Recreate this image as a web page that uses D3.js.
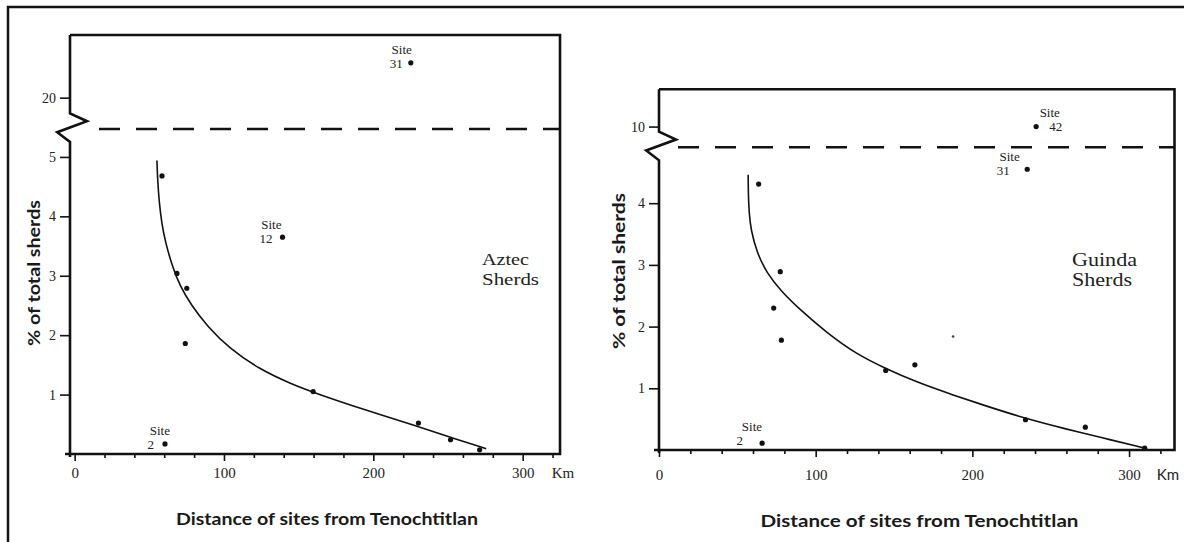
<!DOCTYPE html>
<html><head><meta charset="utf-8">
<script src="https://cdn.jsdelivr.net/npm/d3@7"></script>
<style>body{margin:0;background:#fff}svg{display:block}</style>
</head><body>
<svg id="c" width="1184" height="542"></svg>
<script>
// ---------- DATA ----------
// Aztec sherds (left panel): distance (km), % of total sherds
const aztecDist = [58.5, 68.5, 75.1, 74.1, 159.7, 230.2, 251.7, 271.2, 139.2, 60.5];
const aztecPct  = [4.68, 3.04, 2.79, 1.86, 1.05, 0.52, 0.24, 0.07, 3.65, 0.17];
const aztecUpperDist = [225.1];
const aztecUpperPct  = [25];
const aztecCurveDist = [55.1, 55.6, 56.6, 58.2, 60.7, 65.4, 70.5, 78.2, 88.5, 103.8, 124.3, 144.9, 162.8, 193.6, 230.2, 251.7, 275.6];
const aztecCurvePct  = [4.94, 4.60, 4.25, 3.90, 3.57, 3.16, 2.83, 2.50, 2.16, 1.77, 1.42, 1.18, 1.01, 0.75, 0.46, 0.28, 0.09];
const aztecSiteLabels = ["31", "12", "2"];

// Guinda sherds (right panel)
const guindaDist = [63.6, 77.4, 73.2, 78.1, 144.7, 163.3, 233.9, 272.1, 310, 235, 65.8];
const guindaPct  = [4.31, 2.89, 2.30, 1.78, 1.29, 1.38, 0.49, 0.37, 0.03, 4.55, 0.11];
const guindaSpeckDist = [187.7];
const guindaSpeckPct  = [1.84];
const guindaUpperDist = [240.7];
const guindaUpperPct  = [10];
const guindaCurveDist = [56.9, 57.0, 57.5, 58.6, 62.6, 69, 77.4, 90.1, 107.1, 126.2, 144.7, 164.4, 185.6, 206.7, 233.9, 259.8, 281, 310];
const guindaCurvePct  = [4.46, 4.15, 3.85, 3.57, 3.19, 2.86, 2.59, 2.27, 1.90, 1.55, 1.32, 1.10, 0.91, 0.73, 0.51, 0.34, 0.21, 0.03];
const guindaSiteLabels = ["42", "31", "2"];

const xTickValues = [0,20,40,60,80,100,120,140,160,180,200,220,240,260,280,300,320];
const xTickLabels = ["0","100","200","300"];
const aztecLowerTicks = [1,2,3,4,5];
const aztecUpperTicks = [20];
const guindaLowerTicks = [1,2,3,4];
const guindaUpperTicks = [10];

const xTitle = "Distance of sites from Tenochtitlan";
const yTitle = "% of total sherds";
const unitLabel = "Km";

// ---------- DRAWING ----------
const svg = d3.select("#c");
const ink = "#111";
const serif = "'Liberation Serif', 'DejaVu Serif', serif";
const sans = "Lato, 'Noto Sans', sans-serif";

// outer frame (left and top edges visible)
svg.append("path").attr("d", d3.line()([[8,542],[8,7],[1184,7]]))
  .attr("fill","none").attr("stroke",ink).attr("stroke-width",2.5);

function panel(c) {
  const g = svg.append("g");
  const x = d3.scaleLinear().domain(c.xDomain).range(c.xRange);
  const yL = d3.scaleLinear().domain(c.yLowDomain).range(c.yLowRange);
  const yU = d3.scaleLinear().domain(c.yUpDomain).range(c.yUpRange);
  const ax = c.xRange[0], right = c.xRange[1];
  const bottom = c.yLowRange[0], top = c.yUpRange[1], yBreak = c.yLowRange[1];

  // x axis ticks
  const xAxis = d3.axisBottom(x).tickValues(xTickValues).tickSize(4)
    .tickFormat(d => (d % 100 === 0 && d <= 300) ? xTickLabels[d/100] : "");
  const xg = g.append("g").attr("transform", `translate(0,${bottom})`).call(xAxis);
  xg.select(".domain").remove();
  xg.selectAll(".tick line").attr("stroke", ink).attr("stroke-width", 1.6)
    .attr("y2", d => d % 100 === 0 ? 7 : 4);
  xg.selectAll(".tick text").attr("y", c.xLabelDy).attr("dy", "0.35em")
    .attr("font-family", serif).attr("font-size", 15).attr("fill", "#222");
  g.append("text").attr("x", c.kmX).attr("y", bottom + c.xLabelDy).attr("dy","0.35em")
    .attr("text-anchor","middle").attr("font-family", c.kmFont).attr("font-size",15).attr("fill","#222").text(unitLabel);

  // y axis ticks
  [[yL, c.lowTicks],[yU, c.upTicks]].forEach(([sc, tv]) => {
    const yg = g.append("g").attr("transform", `translate(${ax},0)`)
      .call(d3.axisLeft(sc).tickValues(tv).tickSize(10).tickPadding(4).tickFormat(d3.format("d")));
    yg.select(".domain").remove();
    yg.selectAll(".tick line").attr("stroke", ink).attr("stroke-width", 1.6);
    yg.selectAll(".tick text").attr("font-family", serif).attr("font-size", 14).attr("fill","#222");
  });

  // frame: bottom axis, top, right
  g.append("path").attr("d", d3.line()([[ax-5, bottom],[right, bottom],[right, top],[ax, top]]))
    .attr("fill","none").attr("stroke",ink).attr("stroke-width",2.6);
  // left axis with break zigzag
  g.append("path").attr("d", d3.line()([
      [ax, top],[ax, yBreak-15.6],[ax+17, yBreak-7.8],[ax-12.8, yBreak+3.2],[ax, yBreak+13],[ax, bottom+3]
    ])).attr("fill","none").attr("stroke",ink).attr("stroke-width",2.6).attr("stroke-linejoin","miter");

  // dashed break line
  g.append("line").attr("x1", c.dashStart).attr("x2", right).attr("y1", yBreak).attr("y2", yBreak)
    .attr("stroke", ink).attr("stroke-width", 2.6).attr("stroke-dasharray", "21 16");

  // fitted curve
  const line = d3.line().x(d => x(d[0])).y(d => yL(d[1])).curve(d3.curveBasis);
  g.append("path").datum(c.curveX.map((v,i) => [v, c.curveY[i]]))
    .attr("d", line).attr("fill","none").attr("stroke",ink).attr("stroke-width",1.6);

  // points
  g.selectAll(null).data(c.ptsX.map((v,i)=>[v,c.ptsY[i]])).join("circle")
    .attr("cx", d=>x(d[0])).attr("cy", d=>yL(d[1])).attr("r", 2.6).attr("fill", ink);
  g.selectAll(null).data(c.upX.map((v,i)=>[v,c.upY[i]])).join("circle")
    .attr("cx", d=>x(d[0])).attr("cy", d=>yU(d[1])).attr("r", 2.6).attr("fill", ink);
  if (c.speckX) g.selectAll(null).data(c.speckX.map((v,i)=>[v,c.speckY[i]])).join("circle")
    .attr("cx", d=>x(d[0])).attr("cy", d=>yL(d[1])).attr("r", 1.3).attr("fill", "#444");

  // site labels (two-line)
  c.labels.forEach(L => {
    const px = x(L.d), py = (L.upper ? yU : yL)(L.p);
    const t = g.append("text").attr("text-anchor", L.anchor).attr("font-family", serif)
      .attr("font-size", 13).attr("fill","#222");
    t.append("tspan").attr("x", px + L.sdx).attr("y", py + L.sdy).attr("dy","0.35em").text("Site");
    t.append("tspan").attr("x", px + L.ndx).attr("y", py + L.ndy).attr("dy","0.35em").text(L.num);
  });

  // series name (two lines)
  const nt = g.append("text").attr("font-family", serif).attr("font-size", c.nameSize).attr("fill","#222");
  c.name.forEach((t,i) => nt.append("tspan").attr("x", c.nameX).attr("y", c.nameY + i*c.nameGap).attr("dy","0.35em")
    .attr("textLength", c.nameLen[i]).attr("lengthAdjust","spacingAndGlyphs").text(t));

  // axis titles
  g.append("text").attr("x", c.titleX).attr("y", c.titleY).attr("dy","0.35em").attr("text-anchor","middle")
    .attr("font-family", sans).attr("font-weight", 700).attr("font-size", 17).attr("fill","#1a1a1a")
    .attr("textLength", c.titleLen).attr("lengthAdjust","spacingAndGlyphs").text(xTitle);
  g.append("text").attr("transform", `translate(${c.ylabX},${c.ylabY}) rotate(-90)`).attr("dy","0.35em")
    .attr("text-anchor","middle").attr("font-family", sans).attr("font-weight", 700).attr("font-size", 17)
    .attr("fill","#1a1a1a").attr("textLength", c.ylabLen).attr("lengthAdjust","spacingAndGlyphs").text(yTitle);
}

panel({
  xDomain: [-3.1, 325], xRange: [70, 560],
  yLowDomain: [0, 5.47], yLowRange: [454, 129],
  yUpDomain: [15.5, 29], yUpRange: [129, 35],
  lowTicks: aztecLowerTicks, upTicks: aztecUpperTicks,
  xLabelDy: 19, kmX: 563, kmFont: serif,
  dashStart: 99,
  curveX: aztecCurveDist, curveY: aztecCurvePct,
  ptsX: aztecDist, ptsY: aztecPct,
  upX: aztecUpperDist, upY: aztecUpperPct,
  labels: [
    {d: aztecUpperDist[0], p: aztecUpperPct[0], upper: true, num: aztecSiteLabels[0], anchor: "end", sdx: 1, sdy: -13.5, ndx: -8, ndy: 0.5},
    {d: aztecDist[8], p: aztecPct[8], num: aztecSiteLabels[1], anchor: "end", sdx: -1, sdy: -12.5, ndx: -10, ndy: 1.5},
    {d: aztecDist[9], p: aztecPct[9], num: aztecSiteLabels[2], anchor: "end", sdx: 5, sdy: -13.5, ndx: -11, ndy: 0.5}
  ],
  name: ["Aztec", "Sherds"], nameLen: [47, 57], nameX: 482, nameY: 259, nameGap: 20, nameSize: 17,
  titleX: 327, titleY: 519, titleLen: 302,
  ylabX: 34, ylabY: 273, ylabLen: 146
});

panel({
  xDomain: [0, 329], xRange: [659, 1174.5],
  yLowDomain: [0, 4.906], yLowRange: [450, 147.3],
  yUpDomain: [9, 11.8], yUpRange: [147.3, 89.3],
  lowTicks: guindaLowerTicks, upTicks: guindaUpperTicks,
  xLabelDy: 25, kmX: 1168, kmFont: sans,
  dashStart: 678,
  curveX: guindaCurveDist, curveY: guindaCurvePct,
  ptsX: guindaDist, ptsY: guindaPct,
  upX: guindaUpperDist, upY: guindaUpperPct,
  speckX: guindaSpeckDist, speckY: guindaSpeckPct,
  labels: [
    {d: guindaUpperDist[0], p: guindaUpperPct[0], upper: true, num: guindaSiteLabels[0], anchor: "start", sdx: 3.5, sdy: -13.8, ndx: 13, ndy: 0},
    {d: guindaDist[9], p: guindaPct[9], num: guindaSiteLabels[1], anchor: "end", sdx: -7.5, sdy: -12.5, ndx: -17.5, ndy: 1},
    {d: guindaDist[10], p: guindaPct[10], num: guindaSiteLabels[2], anchor: "end", sdx: 0, sdy: -16.6, ndx: -19, ndy: -2.3}
  ],
  name: ["Guinda", "Sherds"], nameLen: [65, 60], nameX: 1072, nameY: 259.5, nameGap: 20.5, nameSize: 18,
  titleX: 919.5, titleY: 521.5, titleLen: 318,
  ylabX: 619, ylabY: 271, ylabLen: 156
});
</script>
</body></html>
